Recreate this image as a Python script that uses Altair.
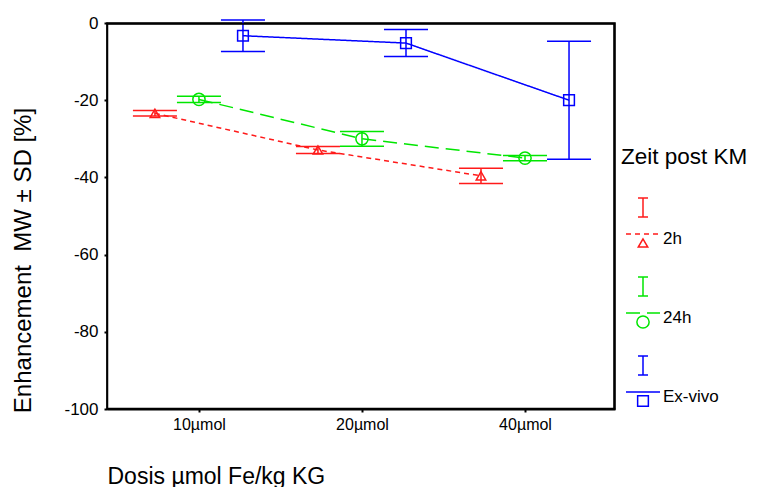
import altair as alt
import pandas as pd

# ---- data ----
doses = ["10µmol", "20µmol", "40µmol"]
series = ["2h", "24h", "Ex-vivo"]
mean_2h = [-23.4, -32.9, -39.6]
sd_2h = [0.7, 0.9, 2.0]
mean_24h = [-19.8, -30.0, -35.0]
sd_24h = [0.8, 1.9, 0.7]
mean_ex = [-3.3, -5.2, -20.0]
sd_ex = [4.1, 3.5, 15.3]

means = {"2h": mean_2h, "24h": mean_24h, "Ex-vivo": mean_ex}
sds = {"2h": sd_2h, "24h": sd_24h, "Ex-vivo": sd_ex}

# ---- styles ----
FONT = "Liberation Sans"
W, H = 508, 386
colors = {"2h": "#ff1a1a", "24h": "#00e600", "Ex-vivo": "#0000ff"}
offsets = {"2h": -0.27, "24h": 0.0, "Ex-vivo": 0.27}
dashes = {"2h": [5, 4], "24h": [14, 7], "Ex-vivo": [1, 0]}
shapes = {"2h": "triangle-up", "24h": "circle", "Ex-vivo": "square"}
msize = {"2h": 90, "24h": 150, "Ex-vivo": 115}
CAP = 0.135

rows = []
for s in series:
    for i, d in enumerate(doses):
        x = i + 1 + offsets[s]
        m = means[s][i]
        sd = sds[s][i]
        rows.append({"series": s, "dose": d, "x": x, "xl": x - CAP, "xr": x + CAP,
                     "mean": m, "lo": m - sd, "hi": m + sd})
df = pd.DataFrame(rows)

XDOM = [0.436, 3.552]
xscale = alt.Scale(domain=XDOM, nice=False, zero=False)
yscale = alt.Scale(domain=[-100, 0], nice=False, zero=False)

label_expr = "['', '" + "', '".join(doses) + "'][datum.value]"
xaxis = alt.Axis(values=[1, 2, 3], labelExpr=label_expr, title="Dosis µmol Fe/kg KG",
                 grid=False, tickSize=3, tickColor="black", tickWidth=2,
                 labelFontSize=16, labelFont=FONT, labelColor="black", labelPadding=4,
                 titleFontSize=23, titleFont=FONT, titleFontWeight="normal", titleColor="black",
                 titleAnchor="start", titleAlign="left", titleX=0, titleY=74,
                 titleBaseline="alphabetic",
                 domainColor="black", domainWidth=2)
yaxis = alt.Axis(values=[0, -20, -40, -60, -80, -100], title="Enhancement\u00a0 MW ± SD [%]",
                 labelExpr="datum.value == 0 ? '0' : '-' + abs(datum.value)",
                 grid=False, tickSize=3, tickColor="black", tickWidth=2,
                 labelFontSize=17, labelFont=FONT, labelColor="black", labelPadding=6,
                 titleFontSize=24, titleFont=FONT, titleFontWeight="normal", titleColor="black",
                 titleAngle=-90, titleX=-84, titleY=237, titleAlign="center",
                 titleBaseline="middle",
                 domainColor="black", domainWidth=2)

one = pd.DataFrame({"k": [0]})
base = alt.Chart(one)

# plot frame as a stroked rectangle behind the data
frame = base.mark_rect(fill="white", stroke="black", strokeWidth=1.5).encode(
    x=alt.value(0.5), x2=alt.value(W - 0.5), y=alt.value(0.5), y2=alt.value(H - 0.5))

layers = [frame]
first = True
for s in series:
    sub = alt.Chart(df).transform_filter(alt.datum.series == s)
    c = colors[s]
    if first:
        xenc = alt.X("x:Q", scale=xscale, axis=xaxis)
        yenc = alt.Y("mean:Q", scale=yscale, axis=yaxis)
        first = False
    else:
        xenc = alt.X("x:Q", scale=xscale)
        yenc = alt.Y("mean:Q", scale=yscale)
    line = sub.mark_line(color=c, strokeWidth=1.5, strokeDash=dashes[s]).encode(x=xenc, y=yenc)
    vbar = sub.mark_rule(color=c, strokeWidth=1.5).encode(
        x=alt.X("x:Q", scale=xscale), y=alt.Y("lo:Q", scale=yscale), y2="hi:Q")
    cap_hi = sub.mark_rule(color=c, strokeWidth=1.5).encode(
        x=alt.X("xl:Q", scale=xscale), x2="xr:Q", y=alt.Y("hi:Q", scale=yscale))
    cap_lo = sub.mark_rule(color=c, strokeWidth=1.5).encode(
        x=alt.X("xl:Q", scale=xscale), x2="xr:Q", y=alt.Y("lo:Q", scale=yscale))
    pts = sub.mark_point(shape=shapes[s], filled=False, color=c, strokeWidth=1.5,
                         size=msize[s], opacity=1).encode(
        x=alt.X("x:Q", scale=xscale), y=alt.Y("mean:Q", scale=yscale))
    layers += [line, vbar, cap_hi, cap_lo, pts]

# extra frame edges drawn as rules just inside the plot edge
layers.append(base.mark_rule(color="#000000", strokeWidth=1.5, opacity=1).encode(
    x=alt.value(1), x2=alt.value(W - 1), y=alt.value(1)))
layers.append(base.mark_rule(color="#000000", strokeWidth=1.5, opacity=1).encode(
    x=alt.value(W - 1), y=alt.value(1), y2=alt.value(H - 1)))

# ---- hand-drawn legend (layout in plot pixels) ----
leg = [base.mark_text(text="Zeit post KM", align="left", baseline="middle", fontSize=22.5,
                      font=FONT, color="black").encode(x=alt.value(514), y=alt.value(134))]
LX = 536
legend_rows = {"2h": 175, "24h": 254, "Ex-vivo": 333}
for s in series:
    c = colors[s]
    y0 = legend_rows[s]
    leg.append(base.mark_rule(color=c, strokeWidth=1.5).encode(
        x=alt.value(LX), y=alt.value(y0), y2=alt.value(y0 + 19)))
    leg.append(base.mark_rule(color=c, strokeWidth=1.5).encode(
        x=alt.value(LX - 5), x2=alt.value(LX + 5), y=alt.value(y0)))
    leg.append(base.mark_rule(color=c, strokeWidth=1.5).encode(
        x=alt.value(LX - 5), x2=alt.value(LX + 5), y=alt.value(y0 + 19)))
    leg.append(base.mark_rule(color=c, strokeWidth=1.5, strokeDash=dashes[s]).encode(
        x=alt.value(LX - 17), x2=alt.value(LX + 17), y=alt.value(y0 + 36)))
    leg.append(base.mark_point(shape=shapes[s], filled=False, color=c, strokeWidth=1.5,
                               size=msize[s], opacity=1).encode(
        x=alt.value(LX), y=alt.value(y0 + 45)))
    leg.append(base.mark_text(text=s, align="left", baseline="middle", fontSize=17,
                              font=FONT, color="black").encode(
        x=alt.value(LX + 20), y=alt.value(y0 + 41)))

chart = alt.layer(*layers, *leg).properties(
    width=W, height=H,
    autosize=alt.AutoSizeParams(type="none"),
    padding={"left": 99, "top": 15, "right": 134, "bottom": 78},
).configure_view(stroke="#000000", strokeWidth=1.5)

chart.save("out.html", embed_options={"renderer": "svg", "actions": False})
